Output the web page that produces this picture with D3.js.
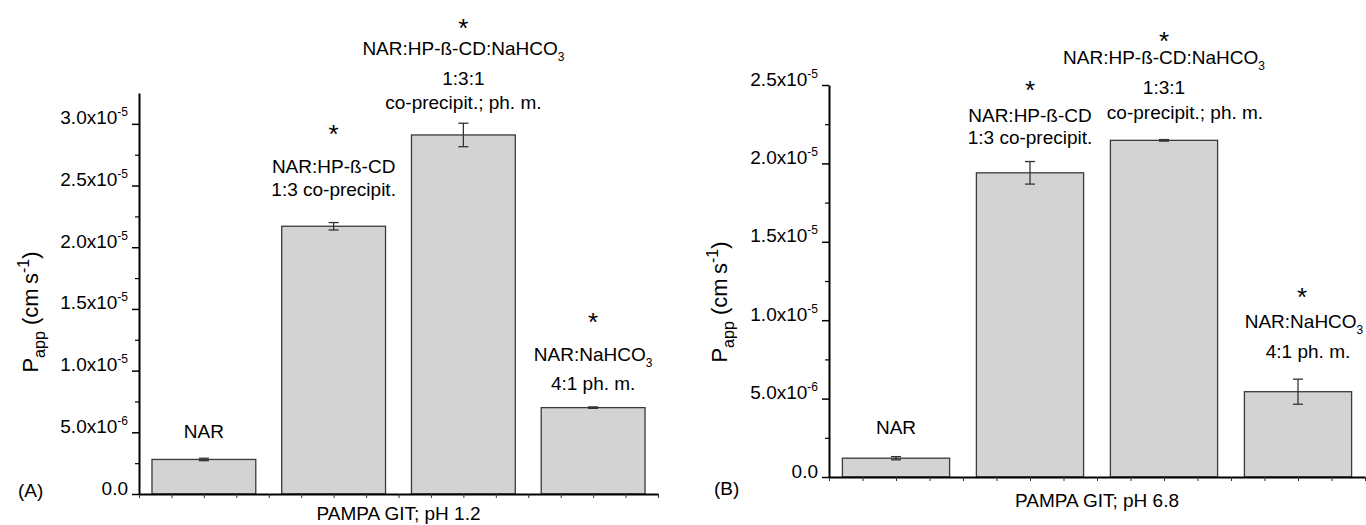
<!DOCTYPE html>
<html>
<head>
<meta charset="utf-8">
<script src="https://cdn.jsdelivr.net/npm/d3@7"></script>
<style>
  body { margin: 0; background: #fff; }
  text { font-family: "Liberation Sans", Arial, sans-serif; fill: #000; }
</style>
</head>
<body>
<div id="chart-area"></div>
<script>
// PAMPA GIT permeability, two pH conditions
var categories = ["NAR", "NAR:HP-ß-CD", "NAR:HP-ß-CD:NaHCO3", "NAR:NaHCO3"];

var valuesA = [2.8e-6, 2.17e-5, 2.91e-5, 7.0e-6];
var errorsA = [0.1e-6, 0.3e-6, 0.95e-6, 0.06e-6];
var valuesB = [1.2e-6, 1.94e-5, 2.147e-5, 5.44e-6];
var errorsB = [0.1e-6, 0.72e-6, 0.05e-6, 0.8e-6];

var yTicksA = [0, 5e-6, 1e-5, 1.5e-5, 2e-5, 2.5e-5, 3e-5];
var yMinorA = [2.5e-6, 7.5e-6, 1.25e-5, 1.75e-5, 2.25e-5, 2.75e-5];
var yTicksB = [0, 5e-6, 1e-5, 1.5e-5, 2e-5, 2.5e-5];
var yMinorB = [2.5e-6, 7.5e-6, 1.25e-5, 1.75e-5, 2.25e-5];

// text over each bar, one entry per line
var barLabels = [
    ["NAR"],
    ["*", "NAR:HP-ß-CD", "1:3 co-precipit."],
    ["*", "NAR:HP-ß-CD:NaHCO_{3}", "1:3:1", "co-precipit.; ph. m."],
    ["*", "NAR:NaHCO_{3}", "4:1 ph. m."]
];

var svg = d3.select("#chart-area")
    .append("svg")
        .attr("width", 1366)
        .attr("height", 525);

// builds text with ^{sup} and _{sub} parts
function richText(sel, str, fs, small) {
    var parts = str.split(/(\^\{[^}]*\}|_\{[^}]*\})/);
    var shift = 0;
    parts.forEach(function(p){
        if (!p) return;
        if (p[0] === "^" || p[0] === "_") {
            var d = (p[0] === "^") ? -0.42 * fs : 0.32 * fs;
            sel.append("tspan").attr("dy", d - shift).attr("font-size", small).text(p.slice(2, -1));
            shift = d;
        } else {
            sel.append("tspan").attr("dy", -shift).attr("font-size", fs).text(p);
            shift = 0;
        }
    });
}

function sciLabel(v) {
    if (v === 0) return "0.0";
    var e = Math.floor(Math.log10(v) + 1e-9);
    var m = v / Math.pow(10, e);
    return m.toFixed(1) + "x10^{" + e + "}";
}

function drawPanel(cfg) {
    var g = svg.append("g");

    var x = d3.scaleBand()
        .domain(categories)
        .range([cfg.x0, cfg.x1])
        .paddingInner(0.2)
        .paddingOuter(0.1);

    var y = d3.scaleLinear()
        .domain([0, cfg.yMax])
        .range([cfg.yBottom, cfg.yTop]);

    var xq = d3.scaleLinear().domain([0, 4]).range([cfg.x0, cfg.x1]);

    // bars
    g.selectAll("rect.bar").data(cfg.values).enter()
        .append("rect")
            .attr("class", "bar")
            .attr("x", function(d, i){ return x(categories[i]); })
            .attr("y", function(d){ return y(d); })
            .attr("width", x.bandwidth())
            .attr("height", function(d){ return y(0) - y(d); })
            .attr("fill", "#d3d3d3")
            .attr("stroke", "#3a3a3a")
            .attr("stroke-width", 1.3);

    // error bars
    var eb = g.selectAll("g.err").data(cfg.values).enter()
        .append("g")
            .attr("class", "err")
            .attr("stroke", "#333")
            .attr("stroke-width", 1.3);
    eb.append("line")
        .attr("x1", function(d, i){ return x(categories[i]) + x.bandwidth() / 2; })
        .attr("x2", function(d, i){ return x(categories[i]) + x.bandwidth() / 2; })
        .attr("y1", function(d, i){ return y(d + cfg.errors[i]); })
        .attr("y2", function(d, i){ return y(d - cfg.errors[i]); });
    [1, -1].forEach(function(s){
        eb.append("line")
            .attr("x1", function(d, i){ return x(categories[i]) + x.bandwidth() / 2 - 5; })
            .attr("x2", function(d, i){ return x(categories[i]) + x.bandwidth() / 2 + 5; })
            .attr("y1", function(d, i){ return y(d + s * cfg.errors[i]); })
            .attr("y2", function(d, i){ return y(d + s * cfg.errors[i]); });
    });

    // x axis with quarter-step ticks
    var xAxisCall = d3.axisBottom(xq)
        .tickValues(d3.range(0, 16.5, 1).map(function(k){ return k / 4; }))
        .tickSizeInner(4)
        .tickSizeOuter(0)
        .tickFormat("");
    var xa = g.append("g")
        .attr("transform", "translate(0," + cfg.yBottom + ")")
        .call(xAxisCall);
    xa.select(".domain").attr("stroke", "#000").attr("stroke-width", 2);
    xa.selectAll(".tick line").attr("stroke", "#333").attr("stroke-width", 1);

    // y axis
    var yAxisCall = d3.axisLeft(y)
        .tickValues(cfg.yTicks)
        .tickSizeInner(7)
        .tickSizeOuter(0)
        .tickPadding(4)
        .tickFormat("");
    var ya = g.append("g")
        .attr("transform", "translate(" + cfg.x0 + ",0)")
        .call(yAxisCall);
    ya.select(".domain").attr("stroke", "#000").attr("stroke-width", 2);
    ya.selectAll(".tick line").attr("stroke", "#000").attr("stroke-width", 1.5);
    ya.selectAll(".tick").append("text")
        .attr("x", -11)
        .attr("dy", "0.35em")
        .attr("text-anchor", "end")
        .attr("fill", "#000")
        .each(function(d){ richText(d3.select(this), sciLabel(d), 19, 12); });

    var yMinorCall = d3.axisLeft(y)
        .tickValues(cfg.yMinor)
        .tickSizeInner(4)
        .tickSizeOuter(0)
        .tickFormat("");
    var ym = g.append("g")
        .attr("transform", "translate(" + cfg.x0 + ",0)")
        .call(yMinorCall);
    ym.select(".domain").remove();
    ym.selectAll(".tick line").attr("stroke", "#000").attr("stroke-width", 1.2);

    // y label
    var yl = g.append("text")
        .attr("transform", "translate(" + cfg.yLabelX + "," + cfg.yLabelY + ") rotate(-90)")
        .attr("text-anchor", "middle");
    richText(yl, "P_{app} (cm\u2009s^{-1})", 22, 16);

    // x title
    g.append("text")
        .attr("x", (cfg.x0 + cfg.x1) / 2)
        .attr("y", cfg.titleY)
        .attr("text-anchor", "middle")
        .attr("font-size", 19)
        .text(cfg.title);

    // panel tag
    g.append("text")
        .attr("x", cfg.tagX)
        .attr("y", cfg.tagY)
        .attr("font-size", 19)
        .text(cfg.tag);

    // annotations over bars
    barLabels.forEach(function(lines, i){
        var cx = x(categories[i]) + x.bandwidth() / 2;
        lines.forEach(function(line, j){
            var dx = (cfg.labelDX && cfg.labelDX[i]) ? cfg.labelDX[i][j] : 0;
            var t = g.append("text")
                .attr("x", cx + dx)
                .attr("y", cfg.labelY[i][j])
                .attr("text-anchor", "middle");
            if (line === "*") {
                t.attr("font-size", 26).text("*");
            } else {
                richText(t, line, 19, 12);
            }
        });
    });
}

drawPanel({
    values: valuesA, errors: errorsA,
    yMax: 3.25e-5, yTicks: yTicksA, yMinor: yMinorA,
    x0: 139, x1: 658, yTop: 93, yBottom: 494,
    yLabelX: 38, yLabelY: 312,
    title: "PAMPA GIT; pH 1.2", titleY: 520,
    tag: "(A)", tagX: 18, tagY: 497,
    labelY: [[438], [143, 173, 196], [37, 55, 85, 109], [331, 361, 390]]
});

drawPanel({
    values: valuesB, errors: errorsB,
    yMax: 2.5e-5, yTicks: yTicksB, yMinor: yMinorB,
    x0: 829, x1: 1365, yTop: 85, yBottom: 477,
    yLabelX: 727, yLabelY: 302,
    title: "PAMPA GIT; pH 6.8", titleY: 507,
    tag: "(B)", tagX: 714, tagY: 495,
    labelY: [[434], [99, 122, 144], [50, 64, 94, 119], [306, 328, 358]],
    labelDX: [[0], [0, 0, 0], [0, 0, 0, 21], [4, 6, 10]]
});
</script>
</body>
</html>
